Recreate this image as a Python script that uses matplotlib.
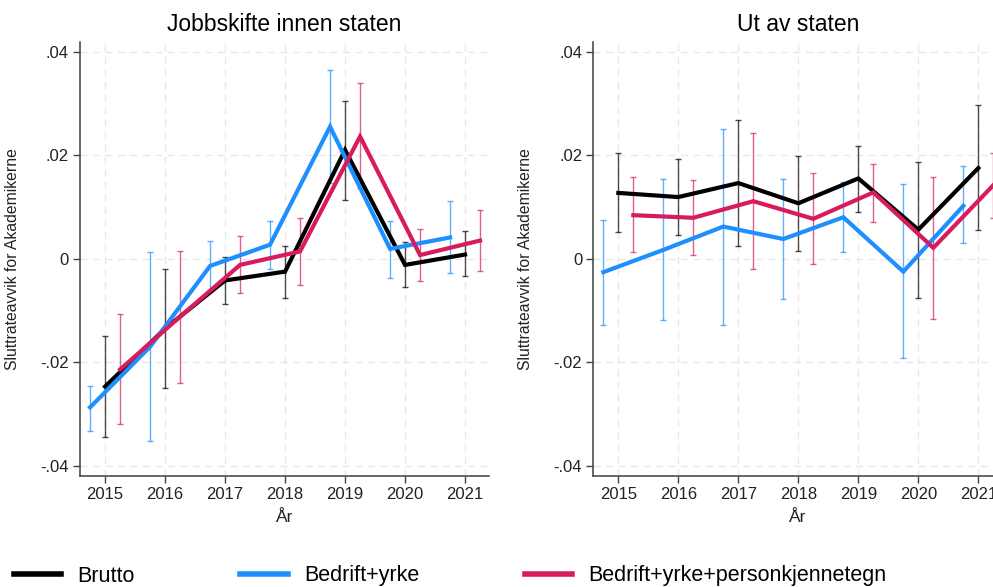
import numpy as np
import matplotlib.pyplot as plt

plt.rcParams['font.family'] = ['Liberation Sans', 'DejaVu Sans']

years = [2015, 2016, 2017, 2018, 2019, 2020, 2021]

# Jobbskifte innen staten
brutto_inn = [-0.0247, -0.0135, -0.0042, -0.0025, 0.0210, -0.0012, 0.0008]
brutto_inn_lo = [-0.0345, -0.0250, -0.0088, -0.0076, 0.0113, -0.0054, -0.0033]
brutto_inn_hi = [-0.0149, -0.0020, 0.0004, 0.0025, 0.0305, 0.0032, 0.0053]

yrke_inn = [-0.0287, -0.0170, -0.0014, 0.0027, 0.0255, 0.0019, 0.0041]
yrke_inn_lo = [-0.0333, -0.0352, -0.0060, -0.0020, 0.0146, -0.0037, -0.0028]
yrke_inn_hi = [-0.0245, 0.0012, 0.0034, 0.0072, 0.0365, 0.0072, 0.0112]

pers_inn = [-0.0214, -0.0112, -0.0012, 0.0014, 0.0236, 0.0007, 0.0035]
pers_inn_lo = [-0.0319, -0.0240, -0.0067, -0.0051, 0.0136, -0.0044, -0.0023]
pers_inn_hi = [-0.0106, 0.0014, 0.0043, 0.0078, 0.0339, 0.0058, 0.0094]

# Ut av staten
brutto_ut = [0.0127, 0.0119, 0.0146, 0.0107, 0.0155, 0.0056, 0.0175]
brutto_ut_lo = [0.0051, 0.0046, 0.0025, 0.0015, 0.0090, -0.0075, 0.0056]
brutto_ut_hi = [0.0204, 0.0192, 0.0268, 0.0198, 0.0218, 0.0187, 0.0296]

yrke_ut = [-0.0026, 0.0017, 0.0062, 0.0038, 0.0080, -0.0025, 0.0102]
yrke_ut_lo = [-0.0128, -0.0119, -0.0128, -0.0078, 0.0012, -0.0192, 0.0030]
yrke_ut_hi = [0.0074, 0.0153, 0.0251, 0.0153, 0.0149, 0.0144, 0.0178]

pers_ut = [0.0084, 0.0079, 0.0111, 0.0077, 0.0128, 0.0021, 0.0142]
pers_ut_lo = [0.0012, 0.0007, -0.0019, -0.0010, 0.0070, -0.0116, 0.0079]
pers_ut_hi = [0.0157, 0.0151, 0.0242, 0.0166, 0.0183, 0.0157, 0.0205]

labels = ['Brutto', 'Bedrift+yrke', 'Bedrift+yrke+personkjennetegn']
colors = ['#000000', '#1e8fff', '#d81b5c']
offsets = [0.0, -0.25, 0.25]

yticks = [-0.04, -0.02, 0, 0.02, 0.04]
yticklabels = ['-.04', '-.02', '0', '.02', '.04']


def panel(ax, title, series):
    x = np.array(years, dtype=float)
    handles = []
    for (mid, lo, hi), col, off in zip(series, colors, offsets):
        mid = np.array(mid)
        err = [mid - np.array(lo), np.array(hi) - mid]
        ax.errorbar(x + off, mid, yerr=err, fmt='none', ecolor=col, alpha=0.7,
                    elinewidth=1.0, capsize=2.2, capthick=1.0, zorder=2)
    for (mid, lo, hi), col, off, lab in zip(series, colors, offsets, labels):
        h, = ax.plot(x + off, mid, color=col, lw=3, label=lab, zorder=3,
                     solid_joinstyle='miter')
        handles.append(h)

    ax.set_xlim(2014.583, 2021.4)
    ax.set_ylim(-0.0419, 0.0419)
    ax.set_xticks(years)
    ax.set_yticks(yticks)
    ax.set_yticklabels(yticklabels)
    ax.grid(True, ls=(0, (5, 4)), color='#e8e8e8', lw=1)
    ax.set_axisbelow(True)
    for s in ['top', 'right']:
        ax.spines[s].set_visible(False)
    for s in ['left', 'bottom']:
        ax.spines[s].set_color('#404040')
        ax.spines[s].set_linewidth(1.1)
    ax.tick_params(direction='out', length=5, width=1, color='#404040',
                   labelsize=12, labelcolor='#222222', pad=3)
    ax.set_title(title, fontsize=16.5, pad=8)
    ax.set_xlabel('År', fontsize=12.5, color='#222222', labelpad=6)
    ax.set_ylabel('Sluttrateavvik for Akademikerne', fontsize=11.3, color='#222222')
    ax.yaxis.set_label_coords(-0.147, 0.5)
    return handles


fig = plt.figure(figsize=(9.93, 5.87), dpi=100)
ax1 = fig.add_axes([0.0806, 0.1896, 0.4119, 0.7394])
ax2 = fig.add_axes([0.5975, 0.1896, 0.4119, 0.7394])

handles = panel(ax1, 'Jobbskifte innen staten',
                [(brutto_inn, brutto_inn_lo, brutto_inn_hi),
                 (yrke_inn, yrke_inn_lo, yrke_inn_hi),
                 (pers_inn, pers_inn_lo, pers_inn_hi)])
panel(ax2, 'Ut av staten',
      [(brutto_ut, brutto_ut_lo, brutto_ut_hi),
       (yrke_ut, yrke_ut_lo, yrke_ut_hi),
       (pers_ut, pers_ut_lo, pers_ut_hi)])

leg = fig.legend(handles, labels, ncol=3, loc='center left',
                 bbox_to_anchor=(14 / 993, 1 - 576 / 587), frameon=False,
                 fontsize=15.5, handlelength=2.2, handletextpad=0.75,
                 columnspacing=4.9, borderpad=0, borderaxespad=0)
for line in leg.get_lines():
    line.set_linewidth(4)

fig.savefig('out.png', dpi=100)
